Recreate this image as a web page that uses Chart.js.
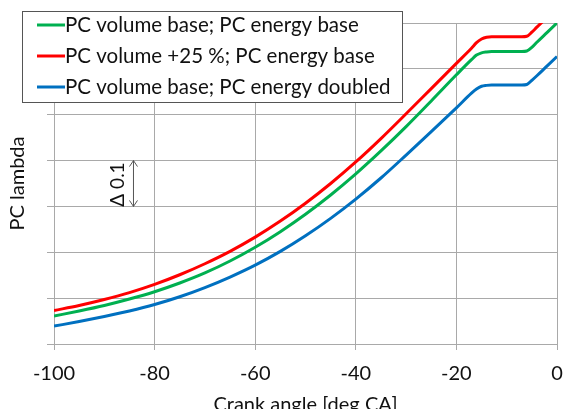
<!DOCTYPE html>
<html>
<head>
<meta charset="utf-8">
<script src="https://cdn.jsdelivr.net/npm/chart.js@4"></script>
<style>
  html, body { margin: 0; padding: 0; background: #fff; }
  #wrap { width: 563px; height: 409px; }
</style>
</head>
<body>
<div id="wrap"><canvas id="lambdaChart" width="563" height="409"></canvas></div>
<script>
// -----------------------------
// DATA
// -----------------------------
const crankAngles = [-100, -95, -90, -85, -80, -75, -70, -65, -60, -55, -50, -45, -40, -35, -30, -25, -20, -17, -16, -15, -14, -13, -7, -6, -5, -4, -2, 0];

const lambdaBase = [0.361, 0.372, 0.384, 0.398, 0.414, 0.433, 0.455, 0.481, 0.511, 0.545, 0.583, 0.625, 0.671, 0.721, 0.774, 0.830, 0.887, 0.920, 0.930, 0.935, 0.937, 0.938, 0.938, 0.939, 0.947, 0.958, 0.979, 1.000];
const lambdaVolPlus25 = [0.373, 0.384, 0.397, 0.412, 0.430, 0.451, 0.475, 0.502, 0.533, 0.568, 0.607, 0.650, 0.697, 0.748, 0.802, 0.857, 0.912, 0.945, 0.957, 0.965, 0.969, 0.970, 0.970, 0.971, 0.980, 0.991, 1.012, 1.033];
const lambdaEnergyDoubled = [0.339, 0.349, 0.360, 0.372, 0.386, 0.403, 0.423, 0.446, 0.472, 0.502, 0.536, 0.574, 0.616, 0.662, 0.712, 0.763, 0.815, 0.847, 0.856, 0.862, 0.864, 0.865, 0.865, 0.866, 0.875, 0.885, 0.906, 0.927];

const seriesNames = [
    "PC volume base; PC energy base",
    "PC volume +25 %; PC energy base",
    "PC volume base; PC energy doubled"
];
const seriesColors = ["#00b050", "#ff0000", "#0070c0"];

const xTicks = [-100, -80, -60, -40, -20, 0];
const yMin = 0.3, yMax = 1.0, yStep = 0.1;

const FONT = "Lato, 'Open Sans', sans-serif";
const GRID = "#a9a9a9";

const toPoints = vals => crankAngles.map((a, i) => ({ x: a, y: vals[i] }));

// -----------------------------
// LEGEND BOX + DELTA MARKER
// -----------------------------
const overlayPlugin = {
    id: "overlay",
    afterDraw(chart) {
        const c = chart.ctx;
        const xs = chart.scales.x, ys = chart.scales.y;

        // delta 0.1 double arrow
        const ax = xs.getPixelForValue(-84.2);
        const y1 = ys.getPixelForValue(0.7), y2 = ys.getPixelForValue(0.6);
        c.save();
        c.strokeStyle = "#555";
        c.lineWidth = 1;
        c.beginPath();
        c.moveTo(ax, y1); c.lineTo(ax, y2);
        c.moveTo(ax - 4, y1 + 6); c.lineTo(ax, y1); c.lineTo(ax + 4, y1 + 6);
        c.moveTo(ax - 4, y2 - 6); c.lineTo(ax, y2); c.lineTo(ax + 4, y2 - 6);
        c.stroke();

        c.translate(xs.getPixelForValue(-87.3), (y1 + y2) / 2 + 1);
        c.rotate(-Math.PI / 2);
        c.fillStyle = "#111";
        c.font = "19px " + FONT;
        c.textAlign = "center";
        c.textBaseline = "middle";
        c.fillText("\u0394 0.1", 0, 0);
        c.restore();

        // legend
        c.save();
        c.fillStyle = "#fff";
        c.fillRect(22, 11, 380, 91);
        c.strokeStyle = "#555";
        c.lineWidth = 1;
        c.strokeRect(22.5, 11.5, 380, 91);
        c.font = "20.5px " + FONT;
        c.textBaseline = "middle";
        c.textAlign = "left";
        seriesNames.forEach((name, i) => {
            const y = 25 + i * 31;
            c.strokeStyle = seriesColors[i];
            c.lineWidth = 3;
            c.beginPath();
            c.moveTo(37, y); c.lineTo(65, y);
            c.stroke();
            c.fillStyle = "#111";
            c.fillText(name, 65, y);
        });
        c.restore();
    }
};

// -----------------------------
// CHART
// -----------------------------
const ctx = document.getElementById("lambdaChart").getContext("2d");
new Chart(ctx, {
    type: "line",
    data: {
        datasets: [lambdaBase, lambdaVolPlus25, lambdaEnergyDoubled].map((vals, i) => ({
            label: seriesNames[i],
            data: toPoints(vals),
            borderColor: seriesColors[i],
            backgroundColor: seriesColors[i],
            borderWidth: 3,
            pointRadius: 0,
            cubicInterpolationMode: "monotone",
            clip: 0
        }))
    },
    options: {
        responsive: false,
        animation: false,
        devicePixelRatio: 1,
        layout: { padding: { top: 23, right: 6, left: 0, bottom: 0 } },
        plugins: {
            legend: { display: false },
            tooltip: { enabled: false }
        },
        scales: {
            x: {
                type: "linear",
                min: -100,
                max: 0,
                afterFit: s => { s.height = 65; s.paddingLeft = 0; s.paddingRight = 0; },
                afterBuildTicks: s => { s.ticks = xTicks.map(v => ({ value: v })); },
                ticks: { color: "#111", font: { family: FONT, size: 20 }, padding: 12, maxRotation: 0 },
                grid: { color: GRID, tickLength: 6, tickColor: GRID },
                border: { color: GRID },
                title: {
                    display: true,
                    text: "Crank angle [deg CA]",
                    color: "#111",
                    font: { family: FONT, size: 20 },
                    padding: { top: 0, bottom: -8 }
                }
            },
            y: {
                min: yMin,
                max: yMax,
                afterFit: s => { s.width = 54; s.paddingTop = 0; s.paddingBottom = 0; },
                ticks: { stepSize: yStep, display: false },
                grid: { color: GRID, tickLength: 7, tickColor: GRID },
                border: { color: GRID },
                title: {
                    display: true,
                    text: "PC lambda",
                    color: "#111",
                    font: { family: FONT, size: 20 },
                    padding: { top: 6, bottom: 0 }
                }
            }
        }
    },
    plugins: [overlayPlugin]
});
</script>
</body>
</html>
